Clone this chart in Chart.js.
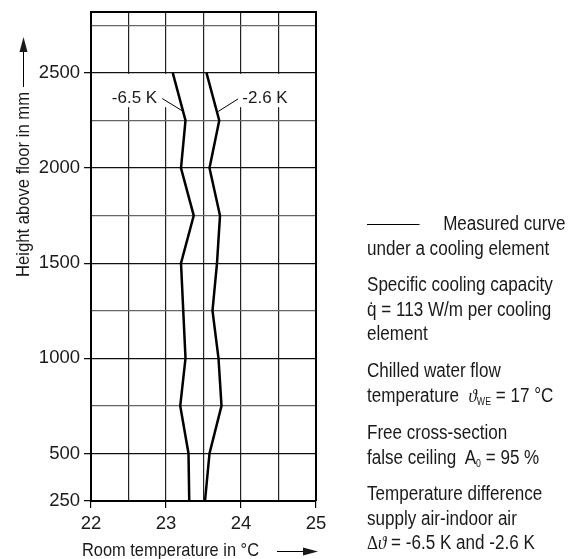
<!DOCTYPE html>
<html>
<head>
<meta charset="utf-8">
<script src="https://cdn.jsdelivr.net/npm/chart.js@4.4.1/dist/chart.umd.min.js"></script>
<style>
    body { margin: 0; background: #fff; }
    #wrap { position: relative; width: 574px; height: 559px; }
    #note { position: absolute; left: 367px; top: 0; font-family: "Liberation Sans", Arial, sans-serif; font-size: 19.5px; color: #1a1a1a; }
    .blk { position: absolute; left: 0; white-space: nowrap; line-height: 24.5px; transform: scaleX(0.875); transform-origin: left top; }
    .gr { font-family: "Liberation Serif", "DejaVu Serif", serif; font-style: italic; }
    .sub { font-size: 10px; vertical-align: -3px; }
</style>
</head>
<body>
<div id="wrap">
    <canvas id="chart" width="574" height="559"></canvas>
    <div id="note">
        <div class="blk" style="top:211px"><span style="display:inline-block;width:60px;border-top:1px solid #000;vertical-align:middle;margin-right:27px"></span>Measured curve<br>under a cooling element</div>
        <div class="blk" style="top:272px">Specific cooling capacity<br>q&#775; = 113 W/m per cooling<br>element</div>
        <div class="blk" style="top:358px">Chilled water flow<br>temperature&nbsp; <span class="gr">&#977;</span><span class="sub">WE</span> = 17 °C</div>
        <div class="blk" style="top:420px">Free cross-section<br>false ceiling&nbsp; A<span class="sub">0</span> = 95 %</div>
        <div class="blk" style="top:481px">Temperature difference<br>supply air-indoor air<br><span class="gr" style="font-style:normal">&Delta;</span><span class="gr">&#977;</span> = -6.5 K and -2.6 K</div>
    </div>
</div>
<script>
// heights in mm, temperatures in °C
const heightsCold = [250, 500, 750, 1000, 1500, 1750, 2000, 2250, 2500];
const tempCold = [23.31, 23.30, 23.19, 23.26, 23.20, 23.37, 23.20, 23.26, 23.09];   // -6.5 K
const heightsWarm = [250, 500, 750, 1000, 1250, 1500, 1750, 2000, 2250, 2500];
const tempWarm = [23.52, 23.58, 23.74, 23.70, 23.62, 23.68, 23.72, 23.58, 23.71, 23.54]; // -2.6 K

const xGrid = [22, 22.5, 23, 23.5, 24, 24.5, 25];
const xTickLabels = [22, 23, 24, 25];
const yGrid = [250, 500, 750, 1000, 1250, 1500, 1750, 2000, 2250, 2500, 2750];
const yTickLabels = [250, 500, 1000, 1500, 2000, 2500];

const FONT = '"Liberation Sans", Arial, sans-serif';

function toPoints(xs, ys) {
    return xs.map((x, i) => ({ x: x, y: ys[i] }));
}

const framePlugin = {
    id: 'frame',
    beforeDatasetsDraw(chart) {
        // white boxes behind the curve labels hide the grid there
        const ctx = chart.ctx;
        const sx = chart.scales.x, sy = chart.scales.y;
        const top = sy.getPixelForValue(2500) + 1;
        const bot = sy.getPixelForValue(2320);
        ctx.save();
        ctx.fillStyle = '#fff';
        ctx.fillRect(sx.getPixelForValue(22.2), top, sx.getPixelForValue(23.04) - sx.getPixelForValue(22.2), bot - top);
        ctx.fillRect(sx.getPixelForValue(23.93), top, sx.getPixelForValue(24.75) - sx.getPixelForValue(23.93), bot - top);
        ctx.restore();
    },
    afterDraw(chart) {
        const ctx = chart.ctx;
        const a = chart.chartArea;
        const sx = chart.scales.x, sy = chart.scales.y;
        ctx.save();
        ctx.strokeStyle = '#000';
        ctx.lineWidth = 2;
        ctx.beginPath();
        ctx.moveTo(a.left, a.top);
        ctx.lineTo(a.right, a.top);
        ctx.lineTo(a.right, a.bottom);
        ctx.stroke();

        // curve labels with leader lines
        ctx.lineWidth = 1;
        ctx.beginPath();
        ctx.moveTo(sx.getPixelForValue(22.95), sy.getPixelForValue(2365));
        ctx.lineTo(sx.getPixelForValue(23.22), sy.getPixelForValue(2300));
        ctx.moveTo(sx.getPixelForValue(23.96), sy.getPixelForValue(2363));
        ctx.lineTo(sx.getPixelForValue(23.695), sy.getPixelForValue(2297));
        ctx.stroke();
        ctx.fillStyle = '#1a1a1a';
        ctx.font = '17px ' + FONT;
        ctx.textAlign = 'center';
        ctx.textBaseline = 'middle';
        ctx.fillText('-6.5 K', sx.getPixelForValue(22.58), sy.getPixelForValue(2368));
        ctx.fillText('-2.6 K', sx.getPixelForValue(24.32), sy.getPixelForValue(2368));

        // axis titles with arrows
        ctx.font = '18.5px ' + FONT;
        ctx.textAlign = 'left';
        ctx.textBaseline = 'alphabetic';
        ctx.fillText('Room temperature in °C', 82, 556, 177);
        ctx.beginPath();
        ctx.moveTo(277, 551.5);
        ctx.lineTo(305, 551.5);
        ctx.stroke();
        ctx.beginPath();
        ctx.moveTo(318, 551.5);
        ctx.lineTo(303, 547.5);
        ctx.lineTo(303, 555.5);
        ctx.closePath();
        ctx.fill();

        ctx.save();
        ctx.translate(29, 277);
        ctx.rotate(-Math.PI / 2);
        ctx.fillText('Height above floor in mm', 0, 0, 185);
        ctx.restore();
        ctx.beginPath();
        ctx.moveTo(23.5, 87);
        ctx.lineTo(23.5, 50);
        ctx.stroke();
        ctx.beginPath();
        ctx.moveTo(23.5, 37);
        ctx.lineTo(19.5, 52);
        ctx.lineTo(27.5, 52);
        ctx.closePath();
        ctx.fill();
        ctx.restore();
    }
};

new Chart(document.getElementById('chart'), {
    type: 'scatter',
    data: {
        datasets: [{
            label: '-6.5 K',
            data: toPoints(tempCold, heightsCold),
            showLine: true,
            borderColor: '#000',
            borderWidth: 2.5,
            pointRadius: 0,
            tension: 0
        }, {
            label: '-2.6 K',
            data: toPoints(tempWarm, heightsWarm),
            showLine: true,
            borderColor: '#000',
            borderWidth: 2.5,
            pointRadius: 0,
            tension: 0
        }]
    },
    options: {
        responsive: false,
        animation: false,
        layout: { padding: { top: 12, right: 258, left: 0, bottom: 0 } },
        plugins: { legend: { display: false }, tooltip: { enabled: false } },
        scales: {
            x: {
                type: 'linear',
                min: 22,
                max: 25,
                afterBuildTicks: (axis) => { axis.ticks = xGrid.map(v => ({ value: v })); },
                afterFit: (axis) => { axis.height = 58; axis.paddingLeft = 0; axis.paddingRight = 0; },
                ticks: {
                    autoSkip: false,
                    maxRotation: 0,
                    padding: 5,
                    color: '#1a1a1a',
                    font: { family: FONT, size: 18.5 },
                    callback: (v) => xTickLabels.includes(v) ? String(v) : ''
                },
                grid: {
                    color: '#222',
                    lineWidth: 1.2,
                    tickLength: 7,
                    tickWidth: 1.2,
                    tickColor: (c) => (c.tick && xTickLabels.includes(c.tick.value)) ? '#000' : 'rgba(0,0,0,0)'
                },
                border: { color: '#000', width: 2 }
            },
            y: {
                type: 'linear',
                min: 250,
                max: 2820,
                afterBuildTicks: (axis) => { axis.ticks = yGrid.map(v => ({ value: v })); },
                afterFit: (axis) => { axis.width = 91; axis.paddingTop = 0; axis.paddingBottom = 0; },
                ticks: {
                    autoSkip: false,
                    padding: 4,
                    color: '#1a1a1a',
                    font: { family: FONT, size: 18.5 },
                    callback: (v) => yTickLabels.includes(v) ? String(v) : ''
                },
                grid: {
                    color: (c) => (c.tick && c.tick.value % 500 === 0) ? '#111' : '#666',
                    lineWidth: 1.3,
                    tickLength: 7,
                    tickWidth: 1.2,
                    tickColor: (c) => (c.tick && yTickLabels.includes(c.tick.value)) ? '#000' : 'rgba(0,0,0,0)'
                },
                border: { color: '#000', width: 2 }
            }
        }
    },
    plugins: [framePlugin]
});
</script>
</body>
</html>
